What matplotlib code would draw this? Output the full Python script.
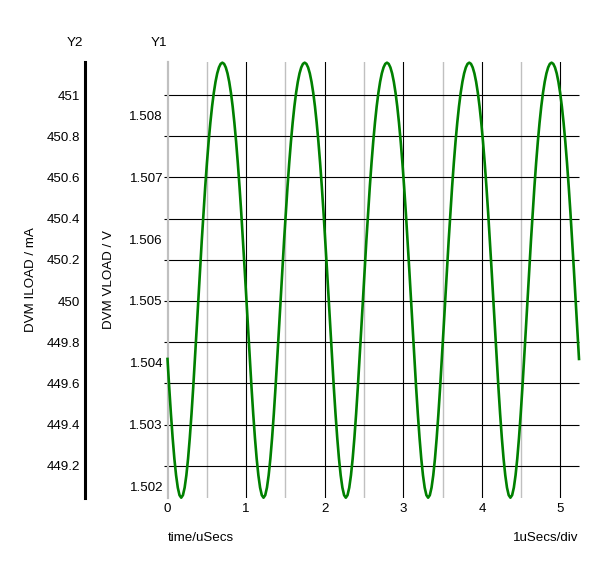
import numpy as np
import matplotlib
matplotlib.use("Agg")
import matplotlib.pyplot as plt
from matplotlib.transforms import blended_transform_factory

plt.rcParams['font.family'] = ['Liberation Sans', 'DejaVu Sans']

# ---------------- data ----------------
t_end = 5.2356  # us
vload = [
    1.504062, 1.503601, 1.503171, 1.502784, 1.502450, 1.502180, 1.501980, 1.501858,
    1.501817, 1.501858, 1.501980, 1.502180, 1.502450, 1.502784, 1.503171, 1.503601,
    1.504062, 1.504542, 1.505029, 1.505513, 1.505984, 1.506432, 1.506851, 1.507236,
    1.507582, 1.507886, 1.508149, 1.508368, 1.508546, 1.508683, 1.508779, 1.508837,
    1.508856, 1.508837, 1.508779, 1.508683, 1.508546, 1.508368, 1.508149, 1.507886,
    1.507582, 1.507236, 1.506851, 1.506432, 1.505984, 1.505513, 1.505029, 1.504542,
    1.504062, 1.503601, 1.503171, 1.502784, 1.502450, 1.502180, 1.501980, 1.501858,
    1.501817, 1.501858, 1.501980, 1.502180, 1.502450, 1.502784, 1.503171, 1.503601,
    1.504062, 1.504542, 1.505029, 1.505513, 1.505984, 1.506432, 1.506851, 1.507236,
    1.507582, 1.507886, 1.508149, 1.508368, 1.508546, 1.508683, 1.508779, 1.508837,
    1.508856, 1.508837, 1.508779, 1.508683, 1.508546, 1.508368, 1.508149, 1.507886,
    1.507582, 1.507236, 1.506851, 1.506432, 1.505984, 1.505513, 1.505029, 1.504542,
    1.504062, 1.503601, 1.503171, 1.502784, 1.502450, 1.502180, 1.501980, 1.501858,
    1.501817, 1.501858, 1.501980, 1.502180, 1.502450, 1.502784, 1.503171, 1.503601,
    1.504062, 1.504542, 1.505029, 1.505513, 1.505984, 1.506432, 1.506851, 1.507236,
    1.507582, 1.507886, 1.508149, 1.508368, 1.508546, 1.508683, 1.508779, 1.508837,
    1.508856, 1.508837, 1.508779, 1.508683, 1.508546, 1.508368, 1.508149, 1.507886,
    1.507582, 1.507236, 1.506851, 1.506432, 1.505984, 1.505513, 1.505029, 1.504542,
    1.504062, 1.503601, 1.503171, 1.502784, 1.502450, 1.502180, 1.501980, 1.501858,
    1.501817, 1.501858, 1.501980, 1.502180, 1.502450, 1.502784, 1.503171, 1.503601,
    1.504062, 1.504542, 1.505029, 1.505513, 1.505984, 1.506432, 1.506851, 1.507236,
    1.507582, 1.507886, 1.508149, 1.508368, 1.508546, 1.508683, 1.508779, 1.508837,
    1.508856, 1.508837, 1.508779, 1.508683, 1.508546, 1.508368, 1.508149, 1.507886,
    1.507582, 1.507236, 1.506851, 1.506432, 1.505984, 1.505513, 1.505029, 1.504542,
    1.504062, 1.503601, 1.503171, 1.502784, 1.502450, 1.502180, 1.501980, 1.501858,
    1.501817, 1.501858, 1.501980, 1.502180, 1.502450, 1.502784, 1.503171, 1.503601,
    1.504062, 1.504542, 1.505029, 1.505513, 1.505984, 1.506432, 1.506851, 1.507236,
    1.507582, 1.507886, 1.508149, 1.508368, 1.508546, 1.508683, 1.508779, 1.508837,
    1.508856, 1.508837, 1.508779, 1.508683, 1.508546, 1.508368, 1.508149, 1.507886,
    1.507582, 1.507236, 1.506851, 1.506432, 1.505984, 1.505513, 1.505029, 1.504542,
    1.504062,
]
time_us = np.linspace(0, t_end, len(vload))

x_ticks = [0, 1, 2, 3, 4, 5]
x_minor = [0.5, 1.5, 2.5, 3.5, 4.5]
y1_ticks = [1.502, 1.503, 1.504, 1.505, 1.506, 1.507, 1.508]
y1_labels = ['1.502', '1.503', '1.504', '1.505', '1.506', '1.507', '1.508']
y2_ticks = [449.2, 449.4, 449.6, 449.8, 450.0, 450.2, 450.4, 450.6, 450.8, 451.0]
y2_labels = ['449.2', '449.4', '449.6', '449.8', '450', '450.2', '450.4', '450.6', '450.8', '451']
y1_lim = (1.501812, 1.508867)
y2_lim = (449.0437, 451.1602)

# ---------------- figure ----------------
W, H = 600, 563
fig = plt.figure(figsize=(W / 100, H / 100), dpi=100)
fig.patch.set_facecolor('white')
ax = fig.add_axes([167.5 / W, 1 - 498 / H, 411.5 / W, 436 / H])
ax2 = ax.twinx()

FS = 9.6

ax.set_xlim(0, t_end)
ax.set_ylim(*y1_lim)
ax2.set_ylim(*y2_lim)

# vertical grid
for xv in x_minor:
    ax.axvline(xv, color='#c0c0c0', lw=1.0, zorder=1)
for xv in x_ticks[1:]:
    ax.axvline(xv, color='black', lw=0.8, zorder=1)

# horizontal grid aligned to Y2 ticks
tr = blended_transform_factory(ax.transAxes, ax2.transData)
ax.hlines(y2_ticks, -0.009, 1.0, transform=tr, color='black', lw=0.8,
          zorder=1, clip_on=False)

ax.plot(time_us, vload, color='#008000', lw=1.9, zorder=5, clip_on=False)

for s in ['top', 'right', 'bottom']:
    ax.spines[s].set_visible(False)
    ax2.spines[s].set_visible(False)
ax.spines['left'].set_color('#c0c0c0')
ax.spines['left'].set_linewidth(1.6)
ax.spines['left'].set_zorder(2)

ax.set_yticks(y1_ticks)
ax.set_yticklabels(y1_labels)
ax.tick_params(axis='y', length=0, pad=3.2, labelsize=FS, colors='black')
ax.set_xticks(x_ticks)
ax.set_xticklabels([str(v) for v in x_ticks])
ax.tick_params(axis='x', length=0, pad=3.5, labelsize=FS, colors='black')

ax2.spines['left'].set_visible(True)
ax2.spines['left'].set_position(('axes', -0.2017))
ax2.spines['left'].set_color('black')
ax2.spines['left'].set_linewidth(2.2)
ax2.yaxis.set_ticks_position('left')
ax2.yaxis.set_label_position('left')
ax2.set_yticks(y2_ticks)
ax2.set_yticklabels(y2_labels)
ax2.tick_params(axis='y', length=0, pad=3.0, labelsize=FS, colors='black')
ax2.patch.set_visible(False)

def fx(px):
    return px / W

def fy(py):
    return 1 - py / H

fig.text(fx(74.5), fy(43), 'Y2', ha='center', va='center', fontsize=FS)
fig.text(fx(159), fy(43), 'Y1', ha='center', va='center', fontsize=FS)
fig.text(fx(31), fy(280), 'DVM ILOAD / mA', ha='center', va='center',
         rotation=90, fontsize=FS)
fig.text(fx(109), fy(280), 'DVM VLOAD / V', ha='center', va='center',
         rotation=90, fontsize=FS)
fig.text(fx(167.5), fy(538), 'time/uSecs', ha='left', va='center', fontsize=FS)
fig.text(fx(578.5), fy(538), '1uSecs/div', ha='right', va='center', fontsize=FS)

fig.savefig('out.png', dpi=100, facecolor='white')
